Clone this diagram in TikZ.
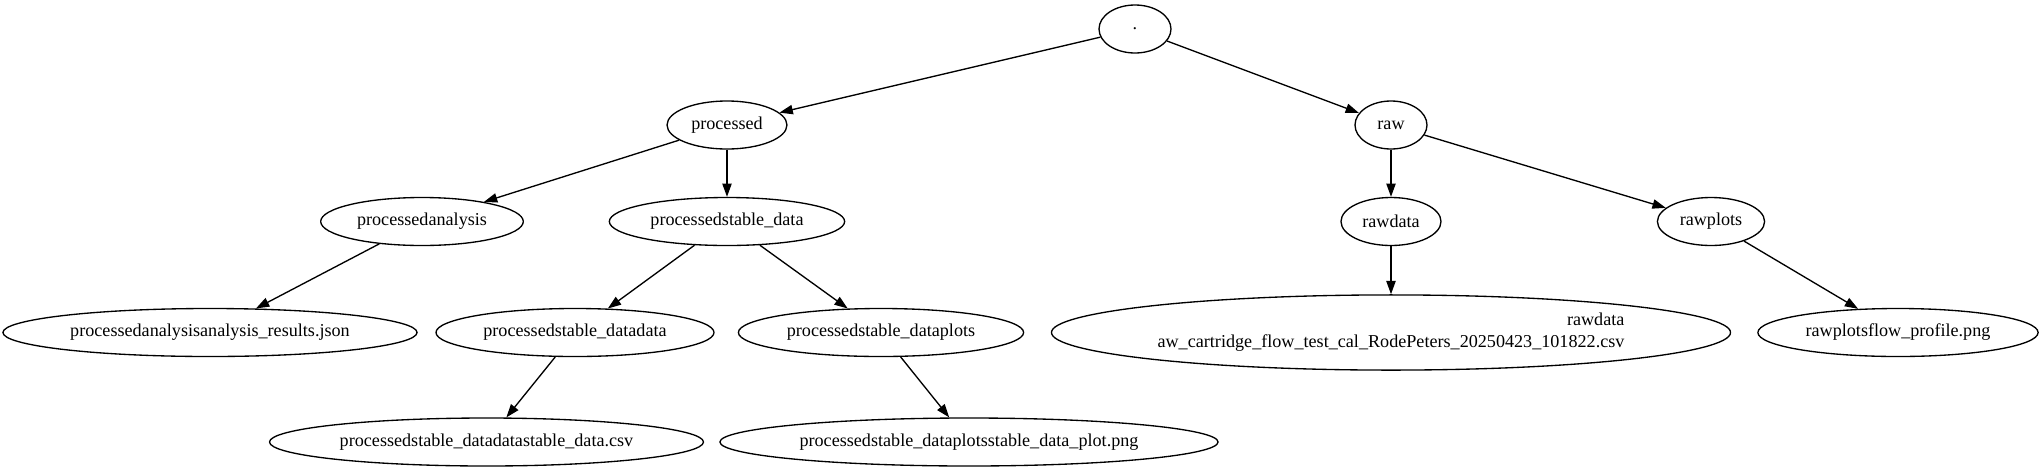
\documentclass[tikz,border=0pt]{standalone}
\usepackage{fontspec}
\setmainfont{Liberation Serif}
\usetikzlibrary{arrows.meta,shapes.geometric}
\begin{document}
\begin{tikzpicture}[x=0.75pt,y=-0.75pt,line width=1pt,
            entry/.style = {ellipse, draw,
                minimum width = 54pt,
                minimum height = 36pt,
                inner xsep = 5pt,
                inner ysep = 5.5pt,
                font = \fontsize{13.6}{16.5}\selectfont,
                },
            link/.style = {-{Triangle[length=10pt,width=7pt]}}]

        \useasboundingbox (0,0) rectangle (2043,472);

        % Root
        \node[entry] (root) at (1135,29) {.};

        % First level
        \node[entry] (processed) at (727,125) {processed};
        \node[entry] (raw) at (1391,125) {raw};

        % Second level
        \node[entry] (panalysis) at (422,221.5) {processedanalysis};
        \node[entry] (pstable) at (727,221.5) {processedstable\_data};
        \node[entry] (rdata) at (1391,221.5) {rawdata};
        \node[entry] (rplots) at (1711,221.5) {rawplots};

        % Third level
        \node[entry] (pjson) at (210,332.5) {processedanalysisanalysis\_results.json};
        \node[entry] (pdata) at (575,332.5) {processedstable\_datadata};
        \node[entry] (pplots) at (881,332.5) {processedstable\_dataplots};
        \node[entry,align=right] (rcsv) at (1391,332.5)
            {rawdata\\aw\_cartridge\_flow\_test\_cal\_RodePeters\_20250423\_101822.csv};
        \node[entry] (rpng) at (1898,332.5) {rawplotsflow\_profile.png};

        % Fourth level
        \node[entry] (pcsv) at (486.5,442) {processedstable\_datadatastable\_data.csv};
        \node[entry] (ppng) at (969,442) {processedstable\_dataplotsstable\_data\_plot.png};

        % Edges
        \draw[link] (root) -- (processed);
        \draw[link] (root) -- (raw);
        \draw[link] (processed) -- (panalysis);
        \draw[link] (processed) -- (pstable);
        \draw[link] (raw) -- (rdata);
        \draw[link] (raw) -- (rplots);
        \draw[link] (panalysis) -- (pjson);
        \draw[link] (pstable) -- (pdata);
        \draw[link] (pstable) -- (pplots);
        \draw[link] (rdata) -- (rcsv);
        \draw[link] (rplots) -- (rpng);
        \draw[link] (pdata) -- (pcsv);
        \draw[link] (pplots) -- (ppng);

        \end{tikzpicture}
\end{document}
